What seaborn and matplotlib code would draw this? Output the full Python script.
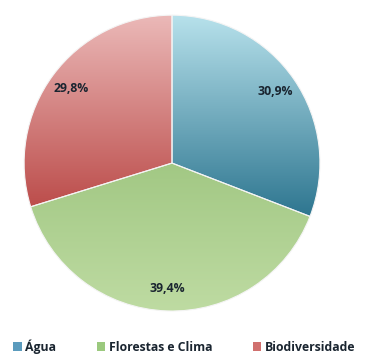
import matplotlib
matplotlib.use("Agg")
import matplotlib.pyplot as plt
import seaborn as sns
import numpy as np
from matplotlib.colors import LinearSegmentedColormap
from matplotlib.patches import Patch

categories = ["Água", "Florestas e Clima", "Biodiversidade"]
values = [30.9, 39.4, 29.8]
labels_pct = ["30,9%", "39,4%", "29,8%"]

# gradient colours (top, bottom) per slice
grad_colors = [("#b8e2ec", "#2e7690"), ("#a2c884", "#bedba2"), ("#ebb9b8", "#bc4d4b")]
legend_colors = ["#5b9bbd", "#9bc97e", "#d0706e"]

sns.set_theme(style="white")
plt.rcParams['font.family'] = ['Open Sans', 'DejaVu Sans']

fig = plt.figure(figsize=(3.65, 3.56), dpi=100)
ax = fig.add_axes([0.0658, 0.1264, 0.811, 0.831])

wedges, texts, autotexts = ax.pie(values, startangle=90, counterclock=False,
                                  autopct=lambda p: "", pctdistance=0.85,
                                  wedgeprops=dict(edgecolor="#f4f4f4", linewidth=0.8))

for w, (c_top, c_bot) in zip(wedges, grad_colors):
    bb = w.get_path().get_extents()
    cmap = LinearSegmentedColormap.from_list("g", [c_bot, c_top])
    grad = np.linspace(0, 1, 256).reshape(-1, 1)
    im = ax.imshow(grad, cmap=cmap, origin="lower", aspect="auto",
                   extent=[bb.x0, bb.x1, bb.y0, bb.y1], zorder=w.get_zorder() - 0.1)
    im.set_clip_path(w)
    w.set_facecolor("none")

for t, lab in zip(autotexts, labels_pct):
    t.set_text(lab)
    t.set_fontsize(8.8)
    t.set_fontweight("bold")
    t.set_color("#1a2530")
    t.set_zorder(10)

ax.set_xlim(-1.0, 1.0)
ax.set_ylim(-1.0, 1.0)
ax.set_aspect("equal")
ax.axis("off")

handles = [Patch(facecolor=c, edgecolor="none") for c in legend_colors]
leg = fig.legend(handles, categories, loc="lower center", ncol=3, frameon=False,
                 bbox_to_anchor=(0.505, -0.025), handlelength=0.7, handleheight=0.7,
                 handletextpad=0.3, columnspacing=3.3,
                 prop=dict(family=['Open Sans', 'DejaVu Sans'], weight='bold', size=8.8))
for t in leg.get_texts():
    t.set_color("#1a2530")

fig.savefig("out.png", dpi=100, facecolor="white")
